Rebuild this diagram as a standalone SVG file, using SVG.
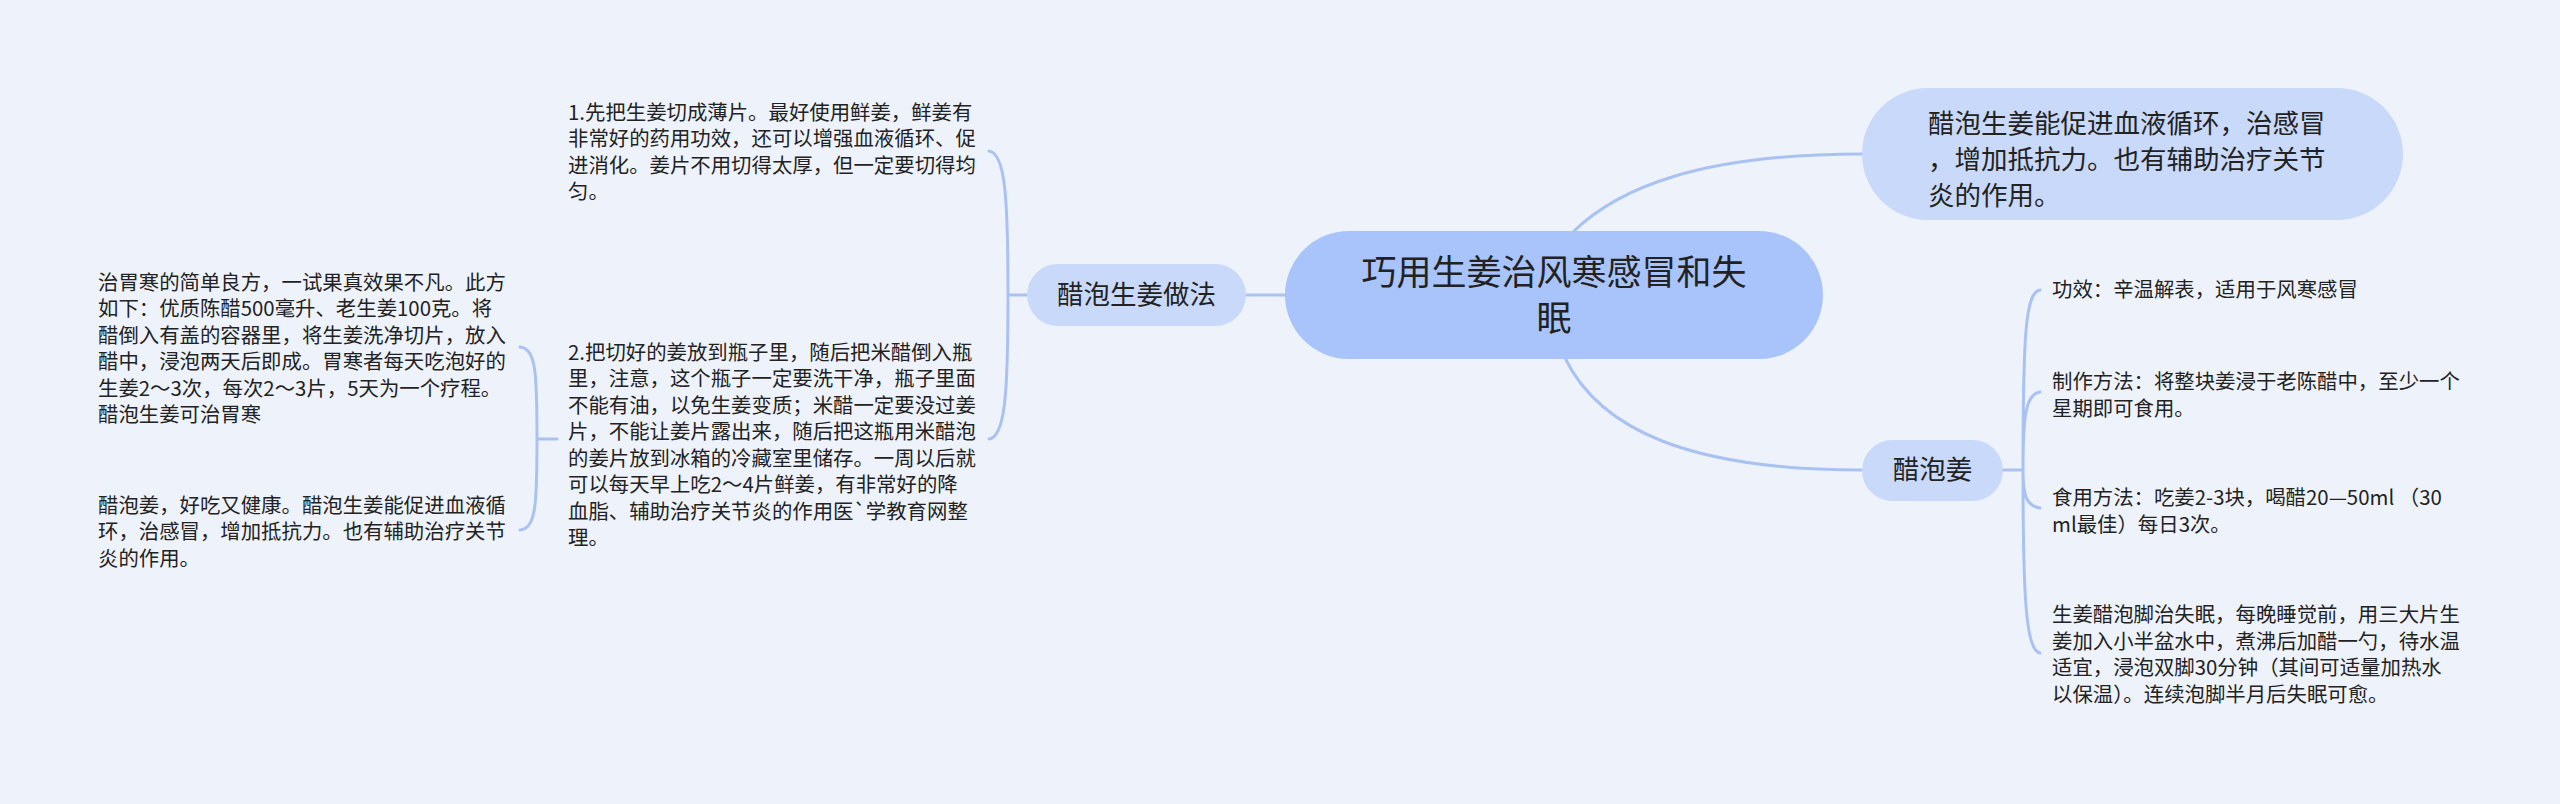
<svg xmlns="http://www.w3.org/2000/svg" width="2560" height="804" viewBox="0 0 2560 804">
<style>
.bg{fill:#EEF3FB}
.root{fill:#A8C4FA}
.l1{fill:#C9D9FA}
.conn{fill:none;stroke:#A9C2F2;stroke-width:3;stroke-linecap:round}
text{font-family:"Noto Sans CJK SC","Noto Sans",sans-serif;fill:#222}
.t0{font-size:35px}
.t1{font-size:26.5px}
.t2{font-size:20.4px}
</style>
<rect class="bg" x="0" y="0" width="2560" height="804"/>
<g id="connectors">
<path class="conn" d="M1285 295 L1246 295"/>
<path class="conn" d="M1573 232 C1618 188 1700 154 1862 154"/>
<path class="conn" d="M1565 358 C1600 430 1690 470 1862 470"/>
<path class="conn" d="M1027 295 L1008 295 M1008 295 C1008 195 1005 153 989 151 M1008 295 C1008 395 1005 437 989 439"/>
<path class="conn" d="M557 439 L537 439 M537 439 C537 372 536 349 520 347 M537 439 C537 505 536 528 520 530"/>
<path class="conn" d="M2003 470 L2023 470 M2023 470 C2023 330 2026 292 2040 290 M2023 470 C2023 415 2026 394 2040 392 M2023 470 C2023 495 2026 506 2040 508 M2023 470 C2023 600 2026 650 2040 653"/>
</g>
<g id="root">
<rect class="root" x="1285" y="231" width="538" height="128" rx="64"/>
<text class="t0" x="1554" y="285" text-anchor="middle">巧用生姜治风寒感冒和失</text>
<text class="t0" x="1554" y="331" text-anchor="middle">眠</text>
</g>
<g id="n-zuofa">
<rect class="l1" x="1027" y="264" width="219" height="62" rx="31"/>
<text class="t1" x="1136.5" y="304" text-anchor="middle">醋泡生姜做法</text>
</g>
<g id="n-step1">
<text class="t2" x="568" y="119.5">1.先把生姜切成薄片。最好使用鲜姜，鲜姜有</text>
<text class="t2" x="568" y="146">非常好的药用功效，还可以增强血液循环、促</text>
<text class="t2" x="568" y="172.5">进消化。姜片不用切得太厚，但一定要切得均</text>
<text class="t2" x="568" y="199">匀。</text>
</g>
<g id="n-step2">
<text class="t2" x="568" y="359.5">2.把切好的姜放到瓶子里，随后把米醋倒入瓶</text>
<text class="t2" x="568" y="386">里，注意，这个瓶子一定要洗干净，瓶子里面</text>
<text class="t2" x="568" y="412.5">不能有油，以免生姜变质；米醋一定要没过姜</text>
<text class="t2" x="568" y="439">片，不能让姜片露出来，随后把这瓶用米醋泡</text>
<text class="t2" x="568" y="465.5">的姜片放到冰箱的冷藏室里储存。一周以后就</text>
<text class="t2" x="568" y="492">可以每天早上吃2～4片鲜姜，有非常好的降</text>
<text class="t2" x="568" y="518.5">血脂、辅助治疗关节炎的作用医`学教育网整</text>
<text class="t2" x="568" y="545">理。</text>
</g>
<g id="n-weihan">
<text class="t2" x="98" y="289.5">治胃寒的简单良方，一试果真效果不凡。此方</text>
<text class="t2" x="98" y="316">如下：优质陈醋500毫升、老生姜100克。将</text>
<text class="t2" x="98" y="342.5">醋倒入有盖的容器里，将生姜洗净切片，放入</text>
<text class="t2" x="98" y="369">醋中，浸泡两天后即成。胃寒者每天吃泡好的</text>
<text class="t2" x="98" y="395.5">生姜2～3次，每次2～3片，5天为一个疗程。</text>
<text class="t2" x="98" y="422">醋泡生姜可治胃寒</text>
</g>
<g id="n-jiankang">
<text class="t2" x="98" y="512.5">醋泡姜，好吃又健康。醋泡生姜能促进血液循</text>
<text class="t2" x="98" y="539">环，治感冒，增加抵抗力。也有辅助治疗关节</text>
<text class="t2" x="98" y="565.5">炎的作用。</text>
</g>
<g id="n-cujin">
<rect class="l1" x="1862" y="88" width="541" height="132" rx="66"/>
<text class="t1" x="1928" y="133">醋泡生姜能促进血液循环，治感冒</text>
<text class="t1" x="1928" y="169">，增加抵抗力。也有辅助治疗关节</text>
<text class="t1" x="1928" y="205">炎的作用。</text>
</g>
<g id="n-cupaojiang">
<rect class="l1" x="1862" y="440" width="141" height="61" rx="30.5"/>
<text class="t1" x="1932.5" y="479" text-anchor="middle">醋泡姜</text>
</g>
<g id="n-gongxiao">
<text class="t2" x="2052" y="297">功效：辛温解表，适用于风寒感冒</text>
</g>
<g id="n-zhizuo">
<text class="t2" x="2052" y="389">制作方法：将整块姜浸于老陈醋中，至少一个</text>
<text class="t2" x="2052" y="415.5">星期即可食用。</text>
</g>
<g id="n-shiyong">
<text class="t2" x="2052" y="505">食用方法：吃姜2-3块，喝醋20—50ml （30</text>
<text class="t2" x="2052" y="531.5">ml最佳）每日3次。</text>
</g>
<g id="n-shimian">
<text class="t2" x="2052" y="622">生姜醋泡脚治失眠，每晚睡觉前，用三大片生</text>
<text class="t2" x="2052" y="648.5">姜加入小半盆水中，煮沸后加醋一勺，待水温</text>
<text class="t2" x="2052" y="675">适宜，浸泡双脚30分钟（其间可适量加热水</text>
<text class="t2" x="2052" y="701.5">以保温）。连续泡脚半月后失眠可愈。</text>
</g>
</svg>
